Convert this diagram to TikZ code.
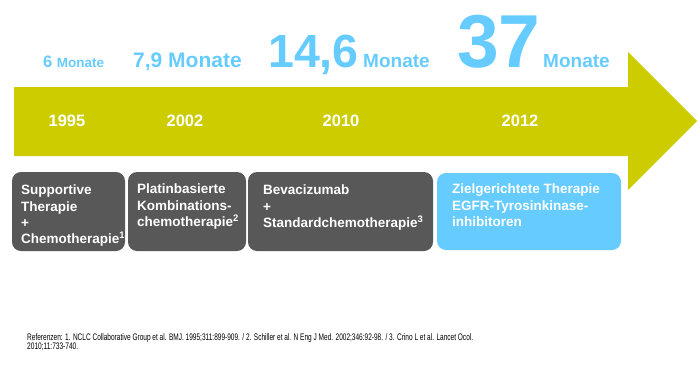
\documentclass[tikz,border=0pt]{standalone}
\usepackage{fontspec}
\setmainfont{Liberation Sans}
\usetikzlibrary{calc}
\definecolor{olive}{RGB}{204,204,0}
\definecolor{skyb}{RGB}{102,204,255}
\definecolor{darkg}{RGB}{88,88,88}
\tikzset{
  box/.style={rounded corners=9pt, fill=#1, draw=none},
  boxtext/.style={anchor=north west, inner sep=0pt, align=left, text=white,
    font=\bfseries\fontsize{13.5}{16.2}\selectfont},
  year/.style={inner sep=0pt, text=white, font=\bfseries\fontsize{16.5}{18}\selectfont},
  months/.style={anchor=base west, inner sep=0pt, text=skyb, font=\bfseries},
  ref/.style={anchor=base west, inner sep=0pt, font=\fontsize{9.5}{10}\selectfont}
}
\begin{document}
\begin{tikzpicture}[x=1pt,y=-1pt]
\useasboundingbox (0,0) rectangle (700,369);
% arrow
\fill[olive] (14,87) -- (628,87) -- (628,52) -- (697,121) -- (628,190) -- (628,156) -- (14,156) -- cycle;
% years
\node[year] (y1) at (67,121) {1995};
\node[year] (y2) at (185,121) {2002};
\node[year] (y3) at (341,121) {2010};
\node[year] (y4) at (520,121) {2012};
% top labels
\node[months] (m1) at (43,67) {\fontsize{16.5}{18}\selectfont 6 \fontsize{13.5}{15}\selectfont Monate};
\node[months] (m2) at (133,67) {\fontsize{21}{23}\selectfont 7,9 Monate};
\node[months] (m3a) at (268,67) {\fontsize{46.5}{48}\selectfont 14,6};
\node[months] (m3b) at (363,67) {\fontsize{19}{21}\selectfont Monate};
\node[months] (m4a) at (457,67) {\fontsize{75}{77}\selectfont 37};
\node[months] (m4b) at (543,67) {\fontsize{19}{21}\selectfont Monate};
% boxes
\path[box=darkg] (12,172) rectangle (125,251) coordinate (b1);
\path[box=darkg] (128,172) rectangle (246,251) coordinate (b2);
\path[box=darkg] (248,172) rectangle (433,251) coordinate (b3);
\path[box=skyb] (437,173) rectangle (621,250) coordinate (b4);
\node[boxtext] (t1) at (21,185) {Supportive\\Therapie\\+\\Chemotherapie\textsuperscript{1}};
\node[boxtext] (t2) at (137,184) {Platinbasierte\\Kombinations-\\chemotherapie\textsuperscript{2}};
\node[boxtext] (t3) at (263,185) {Bevacizumab\\+\\Standardchemotherapie\textsuperscript{3}};
\node[boxtext] (t4) at (452,184) {Zielgerichtete Therapie\\EGFR-Tyrosinkinase-\\inhibitoren};
% references
\node[ref] (r1) at (27,340) {\resizebox{446pt}{\height}{Referenzen: 1. NCLC Collaborative Group et al. BMJ. 1995;311:899-909. / 2. Schiller et al. N Eng J Med. 2002;346:92-98. / 3. Crino L et al. Lancet Ocol.}};
\node[ref] (r2) at (27,349.5) {\resizebox{51pt}{\height}{2010;11:733-740.}};
\end{tikzpicture}
\end{document}
